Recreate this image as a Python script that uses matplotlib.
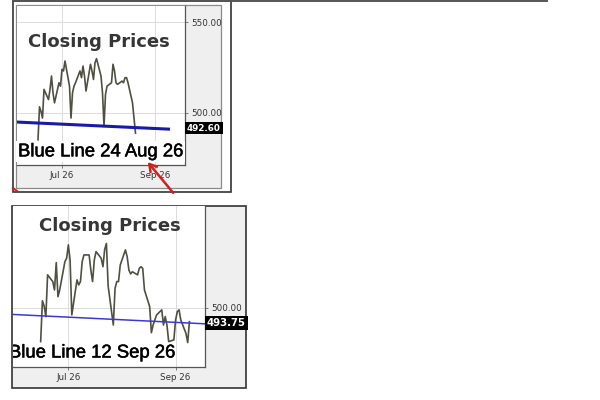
import matplotlib
matplotlib.use("Agg")
import matplotlib.pyplot as plt
import matplotlib.dates as mdates
import matplotlib.ticker as mticker
import matplotlib.patheffects as pe
import pandas as pd
from matplotlib.patches import Rectangle

W, H = 600, 400

# closing prices (daily, trading days)
start_day = "2026-06-15"
top_closes = [485.0, 503.2, 500.7, 497.0, 512.8, 507.2, 512.8, 520.2, 510.9, 505.4,
              516.5, 514.6, 523.9, 523.0, 528.5, 514.6, 497.0, 510.9, 514.6, 516.5,
              523.0, 519.3, 525.7, 520.2, 511.9, 526.7, 523.0, 518.3, 527.6, 529.8,
              520.2, 510.9, 492.4, 510.0, 514.6, 516.5, 526.7, 523.0, 516.5, 515.6,
              517.4, 516.5, 519.3, 519.3, 516.5, 505.4, 497.0, 488.7]
bottom_closes = [486.0, 503.0, 500.8, 496.4, 513.8, 511.0, 507.5, 518.9, 504.7, 507.5,
                 519.3, 520.7, 526.3, 520.0, 497.1, 511.7, 509.6, 511.0, 519.3, 522.1,
                 522.1, 515.8, 511.0, 520.0, 523.5, 520.7, 517.2, 524.4, 526.9, 509.2,
                 492.9, 508.2, 511.0, 511.0, 517.9, 524.2, 521.4, 515.8, 514.2, 515.1,
                 513.8, 516.5, 517.2, 516.5, 507.5, 500.6, 489.7, 492.9, 495.0, 497.1,
                 499.2, 492.9, 496.4, 492.9, 486.0, 486.7, 495.0, 498.5, 499.2, 495.0,
                 489.4, 485.6, 494.3]

# blue trend lines (two end points each)
top_blue_dates = ["2026-06-01", "2026-09-10"]
top_blue_vals = [494.8, 490.9]
bottom_blue_dates = ["2026-05-30", "2026-09-18"]
bottom_blue_vals = [497.3, 493.4]

top_last_label = 492.60
bottom_last_label = 493.75

top_xlim = ["2026-06-01", "2026-09-21"]
bottom_xlim = ["2026-05-30", "2026-09-18"]
top_ylim = [471.1, 559.4]
bottom_ylim = [475.4, 542.5]
top_yticks = [500, 550]
bottom_yticks = [500]


def px_rect(x0, y0, x1, y1):
    return [x0 / W, 1 - y1 / H, (x1 - x0) / W, (y1 - y0) / H]


def style_axes(ax, xlim, ylim, yticks):
    ax.set_facecolor("white")
    ax.set_xlim(pd.Timestamp(xlim[0]), pd.Timestamp(xlim[1]))
    ax.set_ylim(ylim)
    ax.xaxis.set_major_locator(mdates.MonthLocator(bymonth=[7, 9]))
    ax.xaxis.set_major_formatter(mdates.DateFormatter("%b %y"))
    ax.yaxis.tick_right()
    ax.set_yticks(yticks)
    ax.yaxis.set_major_formatter(mticker.FormatStrFormatter("%.2f"))
    ax.tick_params(labelsize=6.3, labelcolor="#333333", color="#666666",
                   length=2.5, width=0.6, pad=2)
    ax.grid(True, color="#dcdcdc", lw=0.7)
    ax.set_axisbelow(True)
    ax.spines["left"].set_visible(False)
    ax.spines["top"].set_color("#8a8a8a")
    ax.spines["top"].set_linewidth(0.7)
    for s in ["right", "bottom"]:
        ax.spines[s].set_color("#555555")
        ax.spines[s].set_linewidth(0.9)


heavy = [pe.withStroke(linewidth=0.35, foreground="black")]

fig = plt.figure(figsize=(6, 4), dpi=100)

# screenshot frames
bg = fig.add_axes([0, 0, 1, 1])
bg.set_xlim(0, W)
bg.set_ylim(H, 0)
bg.axis("off")
bg.plot([13, 547], [1.2, 1.2], color="#555555", lw=1.4)
bg.add_patch(Rectangle((13, 1), 218, 191, fill=False, ec="#333333", lw=1.2))
bg.add_patch(Rectangle((16, 5), 205, 183, fc="#efefef", ec="#8a8a8a", lw=0.9))
bg.add_patch(Rectangle((12, 206), 234, 182, fc="#efefef", ec="#333333", lw=1.2))

top_dates = pd.bdate_range(start=start_day, periods=len(top_closes))
bottom_dates = pd.bdate_range(start=start_day, periods=len(bottom_closes))

# top screenshot
ax1 = fig.add_axes(px_rect(17, 5, 185, 165))
style_axes(ax1, top_xlim, top_ylim, top_yticks)
ax1.plot(top_dates, top_closes, color="#4f4f42", lw=1.2, zorder=3)
ax1.plot(pd.to_datetime(top_blue_dates), top_blue_vals, color="#1a1aa8", lw=2.2, zorder=4)
ax1.text(0.485, 0.767, "Closing Prices", transform=ax1.transAxes, ha="center", va="center",
         fontsize=13, fontweight="bold", color="#363636", zorder=5)
ax1.text(0.006, 0.082, "Blue Line 24 Aug 26", transform=ax1.transAxes, ha="left", va="center",
         fontsize=13.3, family="Liberation Sans", color="black", zorder=6,
         bbox=dict(fc="white", ec="none", pad=1.5), path_effects=heavy)
ax1.annotate(f"{top_last_label:.2f}", xy=(1.012, top_last_label),
             xycoords=ax1.get_yaxis_transform(), xytext=(0, -1.5), textcoords="offset points",
             ha="left", va="center", fontsize=6.3, color="white", fontweight="bold",
             bbox=dict(fc="black", ec="none", pad=1.2))

# bottom screenshot
ax2 = fig.add_axes(px_rect(13, 206, 205, 367))
style_axes(ax2, bottom_xlim, bottom_ylim, bottom_yticks)
ax2.spines["top"].set_visible(False)
ax2.plot(bottom_dates, bottom_closes, color="#4f4f42", lw=1.2, zorder=3)
ax2.plot(pd.to_datetime(bottom_blue_dates), bottom_blue_vals, color="#3a3ad0", lw=1.1, zorder=4)
ax2.text(0.505, 0.876, "Closing Prices", transform=ax2.transAxes, ha="center", va="center",
         fontsize=13, fontweight="bold", color="#363636", zorder=5)
ax2.text(-0.021, 0.087, "Blue Line 12 Sep 26", transform=ax2.transAxes, ha="left", va="center",
         fontsize=13.3, family="Liberation Sans", color="black", zorder=6, clip_on=True,
         path_effects=heavy)
ax2.text(1.01, bottom_last_label, f"{bottom_last_label:.2f}", transform=ax2.get_yaxis_transform(),
         ha="left", va="center", fontsize=7.3, color="white", fontweight="bold",
         bbox=dict(fc="black", ec="none", pad=1.5))

# red arrow drawn over everything
ov = fig.add_axes([0, 0, 1, 1], zorder=10)
ov.set_xlim(0, W)
ov.set_ylim(H, 0)
ov.axis("off")
ov.annotate("", xy=(146, 160), xytext=(175, 195),
            arrowprops=dict(arrowstyle="->,head_length=0.5,head_width=0.3",
                            color="#d02020", lw=1.8))
ov.plot([13, 17], [188, 191], color="#d02020", lw=1.5)

fig.savefig("out.png", dpi=100)
